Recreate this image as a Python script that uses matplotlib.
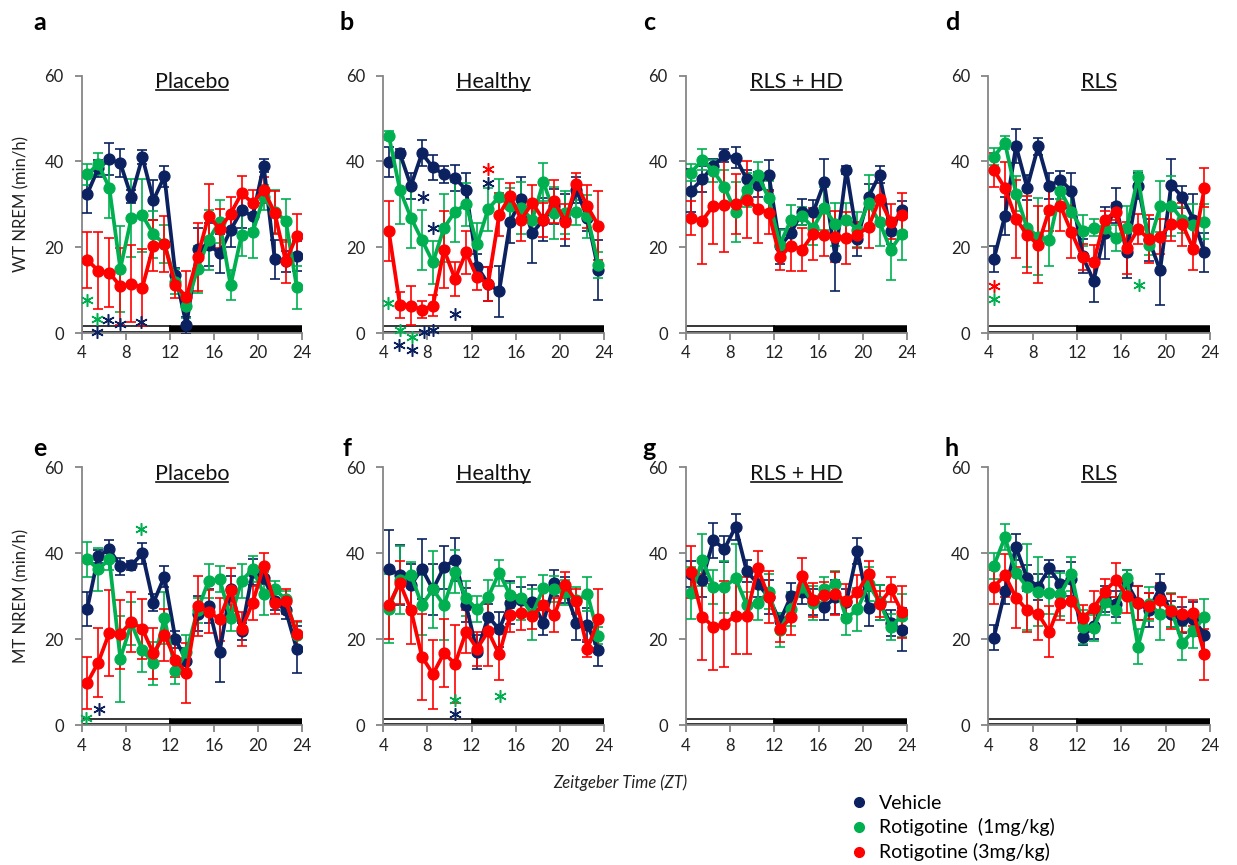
import matplotlib
matplotlib.use("Agg")
import matplotlib.pyplot as plt
from matplotlib.lines import Line2D
from matplotlib.patches import Rectangle

plt.rcParams['font.family'] = ['Lato', 'DejaVu Sans']

# hourly bins (ZT)
zt = [4.5, 5.5, 6.5, 7.5, 8.5, 9.5, 10.5, 11.5, 12.5, 13.5,
      14.5, 15.5, 16.5, 17.5, 18.5, 19.5, 20.5, 21.5, 22.5, 23.5]
xticks = [4, 8, 12, 16, 20, 24]
yticks = [0, 20, 40, 60]
light_start, lights_off, dark_end = 4, 12, 24

series_names = ['Vehicle', 'Rotigotine  (1mg/kg)', 'Rotigotine (3mg/kg)']
series_colors = ['#0b2160', '#00b050', '#ff0000']

panel_letters = ['a', 'b', 'c', 'd', 'e', 'f', 'g', 'h']
panel_titles = ['Placebo', 'Healthy', 'RLS + HD', 'RLS'] * 2
row_ylabels = ['WT NREM (min/h)', 'MT NREM (min/h)']

# ---- WT ----
a_veh = [32.4, 38.4, 40.5, 39.6, 31.8, 41.0, 31.0, 36.5, 13.6, 1.8, 19.6, 20.6, 18.6, 24.0, 28.6, 27.2, 39.0, 17.2, 16.7, 17.9]
a_veh_err = [4.4, 2.0, 3.7, 3.3, 1.5, 1.7, 4.6, 2.5, 1.5, 2.0, 5.0, 5.0, 4.5, 4.0, 4.0, 3.0, 1.5, 4.5, 2.5, 3.5]
a_r1 = [37.0, 39.4, 33.9, 15.0, 26.8, 27.5, 23.0, 20.8, 12.0, 6.4, 14.9, 21.7, 26.0, 11.1, 22.9, 23.5, 31.6, 28.3, 26.2, 10.7]
a_r1_err = [2.5, 2.5, 7.0, 10.0, 9.0, 8.5, 5.5, 4.5, 3.0, 3.0, 5.5, 7.0, 5.0, 3.5, 5.0, 6.0, 3.0, 5.0, 5.0, 5.0]
a_r3 = [17.1, 14.5, 14.1, 10.9, 11.5, 10.6, 20.4, 20.8, 11.1, 8.4, 17.7, 27.3, 24.3, 27.8, 32.6, 30.3, 33.4, 28.0, 16.7, 22.7]
a_r3_err = [6.5, 9.0, 8.0, 9.0, 9.0, 9.0, 6.0, 6.5, 3.0, 6.0, 8.0, 7.5, 4.5, 4.0, 4.0, 3.0, 3.0, 5.0, 5.0, 5.0]

b_veh = [39.8, 41.9, 34.3, 41.9, 38.6, 37.0, 36.1, 33.4, 15.5, 11.5, 9.7, 25.9, 31.3, 23.3, 26.4, 29.5, 26.4, 33.4, 26.8, 14.6]
b_veh_err = [3.5, 1.0, 3.0, 3.0, 3.0, 2.0, 3.0, 4.0, 3.0, 4.0, 6.0, 5.0, 5.0, 7.0, 5.0, 4.0, 6.0, 3.0, 3.0, 7.0]
b_r1 = [46.0, 33.4, 26.9, 21.7, 16.5, 24.5, 28.3, 30.0, 20.7, 28.9, 31.8, 29.7, 29.1, 26.4, 35.2, 28.0, 28.0, 28.1, 27.2, 15.9]
b_r1_err = [1.0, 8.0, 7.0, 7.0, 5.0, 8.0, 7.0, 5.0, 5.0, 5.0, 4.0, 4.0, 6.0, 4.0, 4.5, 6.0, 5.0, 3.0, 5.0, 3.0]
b_r3 = [23.7, 6.6, 6.4, 5.4, 6.4, 19.4, 12.6, 18.8, 13.0, 11.5, 27.6, 32.0, 26.4, 30.4, 26.4, 30.7, 26.0, 34.8, 29.5, 25.0]
b_r3_err = [7.0, 3.0, 4.5, 2.0, 2.5, 9.0, 4.0, 5.0, 3.0, 4.0, 5.0, 3.0, 5.0, 4.0, 4.0, 5.0, 4.0, 2.5, 5.0, 8.0]

c_veh = [33.2, 35.9, 39.0, 41.4, 40.9, 35.9, 34.6, 36.9, 20.2, 23.3, 28.3, 28.1, 35.1, 17.7, 38.0, 22.0, 31.8, 36.9, 23.7, 28.7]
c_veh_err = [5.0, 3.0, 1.5, 1.5, 2.5, 2.0, 3.0, 3.5, 4.0, 3.0, 3.0, 3.0, 5.5, 8.0, 1.0, 4.0, 3.0, 2.0, 3.0, 2.0]
c_r1 = [37.4, 40.4, 37.8, 34.0, 28.3, 33.4, 36.9, 31.4, 20.6, 26.4, 27.3, 24.5, 29.1, 25.4, 26.4, 24.1, 30.3, 25.8, 19.4, 23.1]
c_r1_err = [2.0, 2.5, 2.5, 4.0, 7.0, 4.0, 3.0, 4.0, 3.5, 3.5, 2.0, 4.0, 5.0, 5.0, 4.0, 4.0, 6.5, 5.5, 7.0, 6.0]
c_r3 = [26.8, 26.2, 29.7, 29.9, 30.1, 31.1, 29.0, 28.0, 17.7, 20.4, 19.4, 23.1, 22.9, 22.5, 22.1, 22.9, 24.8, 31.2, 26.0, 27.6]
c_r3_err = [4.0, 10.0, 9.0, 11.0, 7.0, 9.0, 8.0, 5.0, 3.0, 6.0, 5.0, 6.0, 5.0, 6.0, 6.0, 3.0, 5.0, 5.0, 4.0, 5.0]

d_veh = [17.2, 27.3, 43.6, 33.9, 43.5, 34.3, 35.7, 33.2, 17.9, 12.2, 23.3, 29.7, 18.8, 34.3, 21.7, 14.6, 34.6, 31.7, 26.4, 18.8]
d_veh_err = [3.0, 4.5, 4.0, 3.0, 2.0, 3.0, 2.0, 4.0, 4.0, 5.0, 6.0, 4.0, 6.0, 3.0, 5.0, 8.0, 6.0, 2.5, 6.0, 4.5]
d_r1 = [41.1, 44.4, 32.5, 24.5, 22.5, 21.7, 33.2, 28.3, 23.9, 24.6, 24.6, 22.1, 24.5, 36.3, 20.6, 29.5, 29.7, 26.4, 25.1, 26.0]
d_r1_err = [2.0, 1.5, 4.0, 9.0, 9.0, 6.0, 2.0, 5.0, 3.5, 2.0, 2.0, 3.0, 5.0, 1.5, 2.5, 6.0, 7.0, 3.0, 5.0, 4.0]
d_r3 = [38.0, 33.8, 26.6, 22.9, 20.6, 28.7, 29.7, 23.5, 17.7, 16.5, 26.4, 28.3, 19.8, 24.2, 21.9, 22.5, 25.4, 25.4, 19.6, 33.9]
d_r3_err = [4.0, 6.0, 9.0, 9.0, 9.0, 5.0, 6.0, 6.0, 3.0, 4.0, 2.0, 2.0, 6.0, 3.5, 5.5, 4.0, 4.0, 5.0, 5.0, 4.5]

# ---- MT ----
e_veh = [27.1, 39.3, 41.0, 37.0, 37.2, 40.0, 28.5, 34.6, 20.0, 15.0, 26.0, 27.8, 17.0, 31.8, 21.9, 35.7, 34.3, 28.8, 26.7, 17.7]
e_veh_err = [4.0, 1.5, 2.0, 2.0, 1.0, 2.5, 2.0, 2.5, 2.0, 3.0, 4.0, 4.0, 7.0, 3.0, 2.0, 3.0, 1.5, 2.0, 2.0, 5.5]
e_r1 = [38.6, 36.3, 38.6, 15.5, 23.7, 17.5, 14.4, 24.9, 12.7, 17.1, 26.7, 33.6, 34.0, 24.9, 33.6, 36.3, 30.6, 31.6, 29.3, 21.1]
e_r1_err = [4.0, 5.0, 2.5, 10.0, 5.0, 5.0, 5.0, 6.0, 3.0, 4.0, 3.0, 4.0, 3.0, 3.0, 4.0, 3.0, 5.0, 2.0, 2.0, 3.0]
e_r3 = [9.9, 14.6, 21.5, 21.2, 24.1, 22.4, 16.7, 21.0, 15.3, 12.1, 27.8, 26.4, 24.7, 31.5, 22.4, 28.5, 37.0, 28.5, 28.8, 21.3]
e_r3_err = [6.0, 8.0, 10.0, 8.0, 7.0, 7.0, 6.0, 6.0, 4.0, 7.0, 7.0, 5.0, 5.0, 5.0, 4.0, 4.0, 3.0, 2.5, 3.0, 3.0]

f_veh = [36.4, 35.0, 32.6, 36.4, 31.6, 36.8, 38.5, 28.0, 17.0, 25.3, 22.3, 28.5, 29.1, 28.7, 23.9, 33.1, 31.4, 23.9, 23.3, 17.4]
f_veh_err = [9.0, 7.0, 5.0, 7.0, 6.0, 5.0, 5.0, 4.0, 4.0, 3.0, 4.0, 5.0, 3.0, 4.0, 3.0, 3.0, 3.0, 4.0, 4.0, 3.5]
f_r1 = [27.1, 33.8, 35.0, 28.0, 31.6, 27.9, 35.7, 29.5, 27.0, 29.8, 35.5, 30.2, 29.5, 25.8, 31.9, 31.7, 30.9, 29.1, 30.5, 20.8]
f_r1_err = [8.0, 8.0, 3.0, 7.0, 9.0, 8.0, 5.0, 4.0, 3.0, 4.0, 3.0, 3.0, 5.0, 6.0, 3.0, 3.0, 3.0, 3.0, 4.0, 2.0]
f_r3 = [28.0, 33.1, 26.9, 16.0, 11.9, 16.8, 14.3, 21.7, 17.8, 21.9, 16.5, 25.6, 26.2, 25.4, 28.0, 25.6, 32.6, 28.8, 17.8, 24.7]
f_r3_err = [8.0, 5.0, 8.0, 10.0, 8.0, 8.0, 9.0, 5.0, 4.0, 8.0, 6.0, 4.0, 4.0, 3.0, 4.0, 4.0, 3.0, 3.0, 2.0, 7.0]

g_veh = [35.1, 33.9, 43.0, 41.0, 46.2, 35.9, 32.9, 29.8, 24.2, 30.0, 31.1, 28.6, 27.4, 29.8, 28.6, 40.5, 27.2, 28.6, 23.7, 22.2]
g_veh_err = [3.0, 4.0, 4.0, 3.0, 3.0, 2.5, 3.0, 4.0, 2.0, 3.0, 3.0, 3.0, 3.0, 4.0, 3.0, 3.0, 4.0, 4.0, 3.0, 5.0]
g_r1 = [30.7, 38.4, 32.2, 32.2, 34.2, 28.0, 28.4, 31.1, 22.2, 27.0, 32.2, 28.4, 31.6, 32.9, 24.9, 27.0, 32.8, 28.6, 22.8, 25.5]
g_r1_err = [6.0, 6.0, 4.0, 6.0, 8.0, 3.0, 4.0, 4.0, 4.0, 4.0, 2.0, 4.0, 3.0, 3.0, 4.0, 5.0, 4.0, 4.0, 3.0, 5.0]
g_r3 = [35.7, 25.3, 22.9, 23.6, 25.5, 25.5, 36.5, 29.8, 22.3, 25.1, 34.8, 29.1, 30.4, 30.6, 28.8, 31.0, 35.2, 28.3, 31.6, 26.4]
g_r3_err = [6.0, 10.0, 10.0, 10.0, 9.0, 9.0, 4.0, 6.0, 3.0, 4.0, 4.0, 4.0, 3.0, 5.0, 4.0, 4.0, 3.0, 3.0, 3.0, 6.0]

h_veh = [20.4, 31.2, 41.4, 34.2, 32.2, 36.5, 32.8, 34.0, 20.6, 23.1, 29.3, 28.2, 33.1, 28.4, 26.8, 32.1, 25.9, 24.5, 24.7, 21.1]
h_veh_err = [3.0, 3.0, 3.0, 3.0, 3.0, 2.0, 3.0, 4.0, 2.0, 3.0, 3.0, 3.0, 3.0, 4.0, 4.0, 3.0, 3.0, 3.0, 4.0, 4.0]
h_r1 = [37.1, 43.7, 35.4, 32.2, 31.1, 30.8, 30.5, 35.2, 22.9, 22.7, 28.6, 26.8, 34.2, 18.3, 28.2, 25.9, 26.8, 19.2, 21.9, 25.3]
h_r1_err = [3.0, 3.0, 6.0, 10.0, 8.0, 5.0, 5.0, 4.0, 4.0, 3.0, 3.0, 3.0, 2.0, 4.0, 4.0, 6.0, 4.0, 4.0, 4.0, 4.0]
h_r3 = [32.2, 34.9, 29.7, 26.8, 25.9, 21.8, 28.4, 28.9, 24.9, 27.3, 31.1, 33.8, 30.1, 28.4, 27.8, 29.2, 26.5, 25.8, 26.1, 16.5]
h_r3_err = [4.0, 5.0, 7.0, 5.0, 6.0, 6.0, 4.0, 5.0, 3.0, 4.0, 3.0, 4.0, 4.0, 4.0, 3.0, 4.0, 4.0, 4.0, 3.0, 6.0]

# significance asterisks: x (ZT), y (min/h), series index
a_star_x = [4.5, 5.4, 5.4, 6.4, 7.5, 9.4]
a_star_y = [7.8, 3.3, 0.3, 3.0, 2.1, 2.6]
a_star_s = [1, 1, 0, 0, 0, 0]
b_star_x = [4.4, 7.6, 8.5, 10.5, 13.5, 13.5, 5.5, 5.4, 6.6, 6.6, 7.7, 8.5]
b_star_y = [7.0, 31.6, 24.5, 4.4, 38.2, 35.0, 0.7, -2.8, -0.9, -4.0, 0.2, 0.8]
b_star_s = [1, 0, 0, 0, 2, 0, 1, 0, 1, 0, 0, 0]
c_star_x, c_star_y, c_star_s = [], [], []
d_star_x = [4.5, 4.5, 17.6]
d_star_y = [10.9, 7.9, 11.3]
d_star_s = [2, 1, 1]
e_star_x = [9.4, 4.4, 5.6]
e_star_y = [45.6, 1.6, 3.7]
e_star_s = [1, 1, 0]
f_star_x = [10.5, 10.5, 14.6]
f_star_y = [6.0, 2.6, 6.7]
f_star_s = [1, 0, 1]
g_star_x, g_star_y, g_star_s = [], [], []
h_star_x, h_star_y, h_star_s = [], [], []

panels = [
    (a_veh, a_veh_err, a_r1, a_r1_err, a_r3, a_r3_err, a_star_x, a_star_y, a_star_s),
    (b_veh, b_veh_err, b_r1, b_r1_err, b_r3, b_r3_err, b_star_x, b_star_y, b_star_s),
    (c_veh, c_veh_err, c_r1, c_r1_err, c_r3, c_r3_err, c_star_x, c_star_y, c_star_s),
    (d_veh, d_veh_err, d_r1, d_r1_err, d_r3, d_r3_err, d_star_x, d_star_y, d_star_s),
    (e_veh, e_veh_err, e_r1, e_r1_err, e_r3, e_r3_err, e_star_x, e_star_y, e_star_s),
    (f_veh, f_veh_err, f_r1, f_r1_err, f_r3, f_r3_err, f_star_x, f_star_y, f_star_s),
    (g_veh, g_veh_err, g_r1, g_r1_err, g_r3, g_r3_err, g_star_x, g_star_y, g_star_s),
    (h_veh, h_veh_err, h_r1, h_r1_err, h_r3, h_r3_err, h_star_x, h_star_y, h_star_s),
]

W, H = 1237, 865
fig = plt.figure(figsize=(W / 100, H / 100), dpi=100)

# axes boxes in pixels: left/right, top(60)/bottom(0)
col_px = [(81.7, 302.3), (383.3, 604.0), (685.7, 907.3), (988.3, 1210.0)]
row_px = [(75.7, 333.0), (467.3, 725.3)]
spine_col = '#868686'

titles = []
for i, p in enumerate(panels):
    r, c = divmod(i, 4)
    x0, x1 = col_px[c]
    t0, b0 = row_px[r]
    ax = fig.add_axes([x0 / W, 1 - b0 / H, (x1 - x0) / W, (b0 - t0) / H])
    veh, veh_e, r1, r1_e, r3, r3_e, sx, sy, ss = p

    for vals, errs, col in zip([veh, r1, r3], [veh_e, r1_e, r3_e], series_colors):
        ax.errorbar(zt, vals, yerr=errs, color=col, lw=2.7, marker='o', ms=7.8,
                    elinewidth=1.2, capsize=3.5, capthick=1.2, zorder=3)

    # light / dark bar
    ax.add_patch(Rectangle((light_start, 0.25), lights_off - light_start, 1.3,
                           facecolor='white', edgecolor='black', lw=1.1, zorder=2))
    ax.add_patch(Rectangle((lights_off, 0.25), dark_end - lights_off, 1.3,
                           facecolor='black', edgecolor='black', lw=1.1, zorder=2))

    for x, y, s in zip(sx, sy, ss):
        ax.plot([x], [y], ls='none', marker=(6, 2, 0), ms=9, mew=1.1,
                color=series_colors[s], clip_on=False, zorder=5)

    ax.set_xlim(4, 24)
    ax.set_ylim(0, 60)
    ax.set_xticks(xticks)
    ax.set_yticks(yticks)
    for side in ['top', 'right']:
        ax.spines[side].set_visible(False)
    for side in ['left', 'bottom']:
        ax.spines[side].set_color(spine_col)
        ax.spines[side].set_linewidth(1.3)
    ax.tick_params(axis='both', direction='out', length=5, width=1.3,
                   color=spine_col, labelsize=12, labelcolor='#222222')
    ax.tick_params(axis='y', pad=8)
    ax.tick_params(axis='x', pad=4)
    ax.patch.set_alpha(0)

    t = ax.text(0.5, 0.975, panel_titles[i], transform=ax.transAxes,
                ha='center', va='center', fontsize=15.5, color='#111111')
    titles.append(t)

    lx = [40, 347, 649, 952][c]
    ly = [22, 449][r]
    fig.text(lx / W, 1 - ly / H, panel_letters[i], fontsize=18, fontweight='bold',
             ha='center', va='center')

for r, lab in enumerate(row_ylabels):
    t0, b0 = row_px[r]
    fig.text(21 / W, 1 - (t0 + b0) / 2 / H, lab, rotation=90, ha='center',
             va='center', fontsize=12, color='#222222')

fig.text(620 / W, 1 - 783 / H, 'Zeitgeber Time (ZT)', style='italic',
         ha='center', va='center', fontsize=12, color='#222222')

handles = [Line2D([], [], ls='none', marker='o', ms=7, color=c) for c in series_colors]
fig.legend(handles, series_names, loc='center left',
           bbox_to_anchor=(842 / W, 1 - 828 / H), frameon=False, fontsize=14,
           handlelength=0.8, handletextpad=0.6, labelspacing=0.35, borderpad=0)

# underline panel titles
fig.canvas.draw()
inv = fig.transFigure.inverted()
for t in titles:
    bb = t.get_window_extent()
    (fx0, fy0) = inv.transform((bb.x0 + 1, bb.y0 + 2))
    (fx1, _) = inv.transform((bb.x1 - 1, bb.y0 + 2))
    fig.add_artist(Line2D([fx0, fx1], [fy0, fy0], transform=fig.transFigure,
                          color='#111111', lw=1.2))

fig.savefig('out.png', dpi=100)
